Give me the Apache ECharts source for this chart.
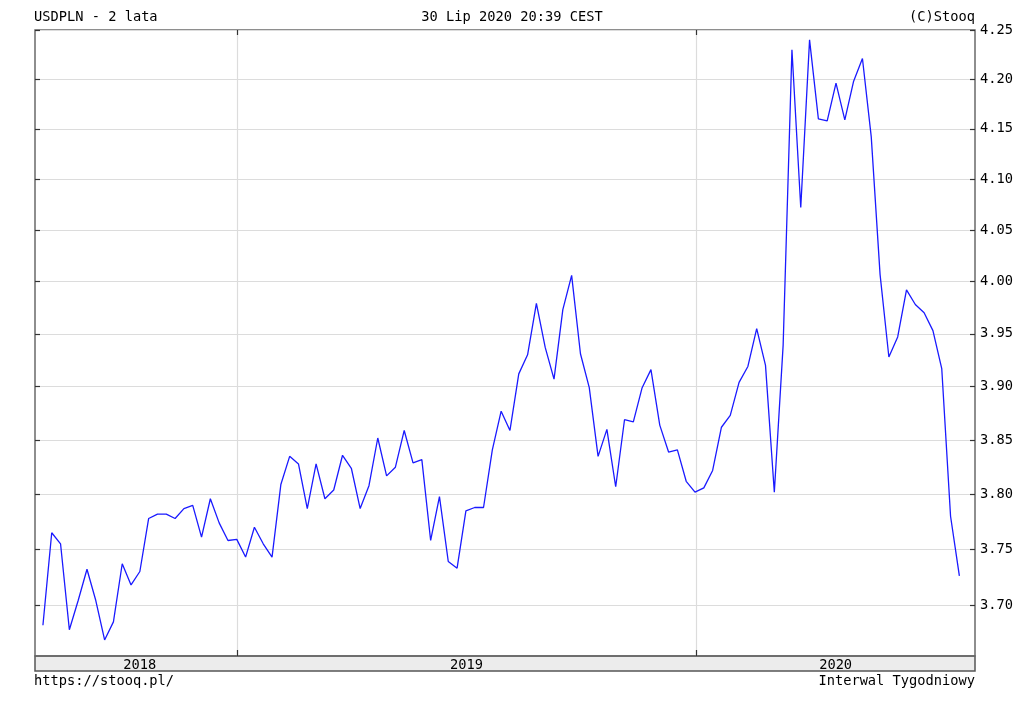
<!DOCTYPE html>
<html>
<head>
<meta charset="utf-8">
<script src="https://cdn.jsdelivr.net/npm/echarts@6/dist/echarts.min.js"></script>
<style>
html,body{margin:0;padding:0;background:#fff;}
#chart{width:1024px;height:705px;}
</style>
</head>
<body>
<div id="chart"></div>
<script>
// Weekly dates (points of the series)
const dates = [
  '2018-07-31','2018-08-07','2018-08-14','2018-08-21','2018-08-28','2018-09-04','2018-09-11','2018-09-18','2018-09-25',
  '2018-10-02','2018-10-09','2018-10-16','2018-10-23','2018-10-30','2018-11-06','2018-11-13','2018-11-20','2018-11-27',
  '2018-12-04','2018-12-11','2018-12-18','2018-12-25',
  '2019-01-01','2019-01-08','2019-01-15','2019-01-22','2019-01-29','2019-02-05','2019-02-12','2019-02-19','2019-02-26',
  '2019-03-05','2019-03-12','2019-03-19','2019-03-26','2019-04-02','2019-04-09','2019-04-16','2019-04-23','2019-04-30',
  '2019-05-07','2019-05-14','2019-05-21','2019-05-28','2019-06-04','2019-06-11','2019-06-18','2019-06-25','2019-07-02',
  '2019-07-09','2019-07-16','2019-07-23','2019-07-30','2019-08-06','2019-08-13','2019-08-20','2019-08-27','2019-09-03',
  '2019-09-10','2019-09-17','2019-09-24','2019-10-01','2019-10-08','2019-10-15','2019-10-22','2019-10-29','2019-11-05',
  '2019-11-12','2019-11-19','2019-11-26','2019-12-03','2019-12-10','2019-12-17','2019-12-24','2019-12-31',
  '2020-01-07','2020-01-14','2020-01-21','2020-01-28','2020-02-04','2020-02-11','2020-02-18','2020-02-25','2020-03-03',
  '2020-03-10','2020-03-17','2020-03-24','2020-03-31','2020-04-07','2020-04-14','2020-04-21','2020-04-28','2020-05-05',
  '2020-05-12','2020-05-19','2020-05-26','2020-06-02','2020-06-09','2020-06-16','2020-06-23','2020-06-30','2020-07-07',
  '2020-07-14','2020-07-21','2020-07-28'
];
// USDPLN weekly close
const usdpln = [
  3.682,3.765,3.755,3.678,3.704,3.732,3.704,3.669,3.685,3.737,
  3.718,3.730,3.778,3.782,3.782,3.778,3.787,3.790,3.761,3.796,
  3.774,3.758,3.759,3.743,3.770,3.755,3.743,3.809,3.835,3.828,
  3.787,3.828,3.796,3.804,3.836,3.824,3.787,3.808,3.852,3.817,
  3.825,3.859,3.829,3.832,3.758,3.798,3.739,3.733,3.785,3.788,
  3.788,3.841,3.877,3.859,3.912,3.930,3.979,3.937,3.907,3.973,
  4.006,3.931,3.899,3.835,3.860,3.807,3.869,3.867,3.899,3.916,
  3.864,3.839,3.841,3.812,3.802,3.806,3.822,3.862,3.873,3.904,
  3.919,3.955,3.920,3.802,3.939,4.230,4.072,4.240,4.160,4.158,
  4.196,4.159,4.198,4.221,4.142,4.007,3.928,3.947,3.992,3.978,
  3.970,3.953,3.917,3.780,3.726
];
// Axis ticks / labels
const yTicks = [3.70,3.75,3.80,3.85,3.90,3.95,4.00,4.05,4.10,4.15,4.20,4.25];
const yearStarts = ['2019-01-01','2020-01-01'];
const yearLabels = ['2018','2019','2020'];
const headerLeft = 'USDPLN - 2 lata';
const headerCenter = '30 Lip 2020 20:39 CEST';
const headerRight = '(C)Stooq';
const footerLeft = 'https://stooq.pl/';
const footerRight = 'Interwal Tygodniowy';

function ts(s){ const p = s.split('-').map(Number); return Date.UTC(p[0], p[1]-1, p[2]); }
const xMin = Date.UTC(2018, 6, 24, 17);
const xMax = Date.UTC(2020, 7, 9, 10);
const yearTicks = yearStarts.map(ts);
const labelPos = [
  (ts(dates[0]) + yearTicks[0]) / 2,
  (yearTicks[0] + yearTicks[1]) / 2,
  (yearTicks[1] + xMax) / 2
];
const FONT = 'DejaVu Sans Mono';
const FS = 13.7;

const chart = echarts.init(document.getElementById('chart'), null, {renderer:'canvas'});
const gridL = 35, gridR = 49, gridT = 30, gridB = 49;
const txt = {fontFamily: FONT, fontSize: FS, fontWeight: 'normal', color: '#000'};

chart.setOption({
  animation: false,
  backgroundColor: '#fff',
  textStyle: {fontFamily: FONT},
  title: [
    {text: headerLeft, left: 34, top: 10, padding: 0, textStyle: txt},
    {text: headerCenter, left: 'center', top: 10, padding: 0, textStyle: txt},
    {text: headerRight, right: 49, top: 10, padding: 0, textStyle: txt},
    {text: footerLeft, left: 34, top: 674, padding: 0, textStyle: txt},
    {text: footerRight, right: 49, top: 674, padding: 0, textStyle: txt}
  ],
  graphic: [
    {type: 'rect', z: -1, shape: {x: 35, y: 656, width: 940, height: 15},
     style: {fill: '#ececec', stroke: '#555', lineWidth: 1.5}}
  ],
  grid: {left: gridL, right: gridR, top: gridT, bottom: gridB, show: true,
         borderColor: '#6a6a6a', borderWidth: 1.5, backgroundColor: 'transparent'},
  xAxis: [
    {type: 'value', position: 'bottom', min: xMin, max: xMax,
     axisLine: {show: false},
     axisTick: {show: true, inside: true, length: 6, customValues: yearTicks, lineStyle: {color: '#333', width: 1.2}},
     splitLine: {show: true, lineStyle: {color: '#dcdcdc', width: 1.2}},
     axisLabel: {show: true, customValues: labelPos, margin: 2, fontFamily: FONT, fontSize: FS, color: '#000',
       formatter: function(v){ const idx = yearTicks.filter(function(t){ return v >= t; }).length; return yearLabels[idx]; }}
    },
    {type: 'value', position: 'top', min: xMin, max: xMax,
     axisLine: {show: false},
     axisTick: {show: true, inside: true, length: 5, customValues: yearTicks, lineStyle: {color: '#333', width: 1.2}},
     splitLine: {show: false},
     axisLabel: {show: false}
    }
  ],
  yAxis: [
    {type: 'log', logBase: 10, position: 'right', min: 3.6548, max: 4.2501,
     axisLine: {show: false},
     axisTick: {show: true, inside: true, length: 5, customValues: yTicks, lineStyle: {color: '#333', width: 1.2}},
     splitLine: {show: true, lineStyle: {color: '#dcdcdc', width: 1.2}},
     axisLabel: {show: true, customValues: yTicks, margin: 5, fontFamily: FONT, fontSize: FS, color: '#000',
       formatter: function(v){ return Number(v).toFixed(2); }}
    },
    {type: 'log', logBase: 10, position: 'left', min: 3.6548, max: 4.2501,
     axisLine: {show: false},
     axisTick: {show: true, inside: true, length: 5, customValues: yTicks, lineStyle: {color: '#333', width: 1.2}},
     splitLine: {show: false},
     axisLabel: {show: false}
    }
  ],
  series: [{
    type: 'line',
    xAxisIndex: 0, yAxisIndex: 0,
    data: dates.map(function(d, i){ return [ts(d), usdpln[i]]; }),
    showSymbol: false, symbol: 'none',
    lineStyle: {color: '#1a1aff', width: 1.3},
    z: 5
  }]
});
</script>
</body>
</html>
